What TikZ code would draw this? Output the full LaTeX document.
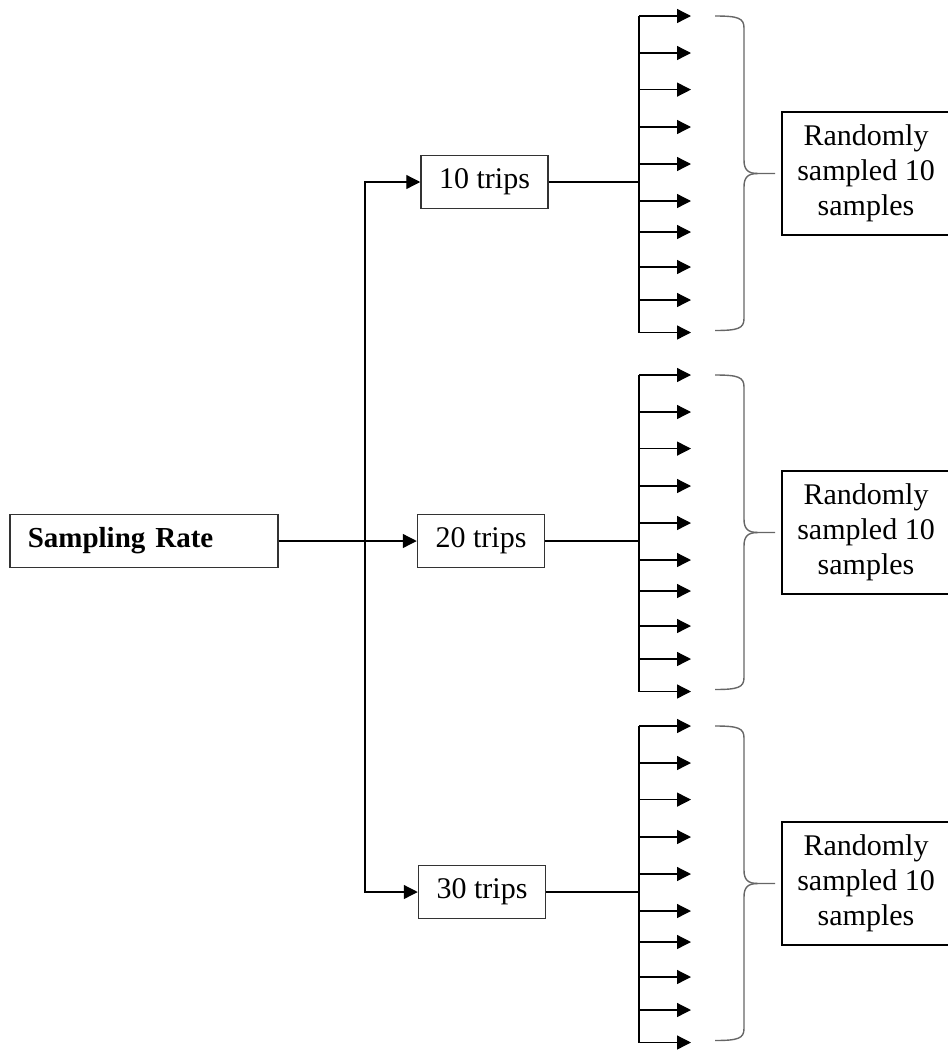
\documentclass[tikz,border=0pt]{standalone}
\usepackage{fontspec}
\setmainfont{Liberation Serif}
\usetikzlibrary{arrows.meta}
\begin{document}
\begin{tikzpicture}[x=1pt,y=-1pt,
  font=\fontsize{30}{35}\selectfont,
  line/.style={line width=1.3pt},
  arr/.style={line, -{Triangle[length=14pt,width=14pt]}},
  box/.style={draw=black!80, line width=1.5pt, inner sep=0pt, minimum height=53pt},
  tripbox/.style={box, minimum width=127pt},
  outbox/.style={draw=black, line width=2pt, minimum width=168pt, minimum height=123pt,
                 align=center, inner sep=0pt},
  bracestyle/.style={draw=black!60, line width=1.4pt}]
\useasboundingbox (0,0) rectangle (948,1050);

% source box and the three trip counts
\node[box, anchor=west, inner xsep=18pt, text width=232pt, align=left]
  (sr) at (9,541) {\fontsize{29}{35}\selectfont\bfseries Sampling Rate};
\node[tripbox] (t10) at (484.5,182) {10 trips};
\node[tripbox] (t20) at (481,541) {20 trips};
\node[tripbox] (t30) at (482,892) {30 trips};

% trunk splitting to the three boxes
\coordinate (trunk) at (365,541);
\draw[arr] (sr) -- (t20);
\draw[arr] (trunk) |- (t10);
\draw[arr] (trunk) |- (t30);

% each trip box fans out into ten samples, grouped by a brace
\foreach \g/\cy in {1/182, 2/541, 3/892} {
  \coordinate (fan\g) at (639,\cy);
  \draw[line] (t\ifcase\g\or10\or20\or30\fi) -- (fan\g);
  \coordinate (fantop\g) at (639,\cy-166);
  \coordinate (fanbot\g) at (639,\cy+150.5);
  \draw[line] (fantop\g) -- (fanbot\g);
  \foreach \k/\dy in {1/0, 2/37, 3/73.6, 4/111, 5/148, 6/185, 7/216, 8/251, 9/284, 10/316.5} {
    \coordinate (s\g-\k) at (639,\cy-166+\dy);
    \coordinate (e\g-\k) at (691,\cy-166+\dy);
    \draw[arr] (s\g-\k) -- (e\g-\k);
  }
  % brace: top end, long stroke, tip, long stroke, bottom end
  \coordinate (bt\g) at (715,\cy-166);
  \coordinate (bm\g) at (775,\cy-8.5);
  \coordinate (bb\g) at (715,\cy+148.5);
  \draw[bracestyle] (bt\g) .. controls (738,\cy-166) and (744,\cy-164) .. (744,\cy-154)
     -- (744,\cy-22) .. controls (744,\cy-12) and (748,\cy-8.5) .. (758,\cy-8.5) -- (bm\g);
  \draw[bracestyle] (bb\g) .. controls (738,\cy+148.5) and (744,\cy+146.5) .. (744,\cy+136.5)
     -- (744,\cy+5) .. controls (744,\cy-5) and (748,\cy-8.5) .. (758,\cy-8.5);
  \node[outbox] (out\g) at (866,\cy-8.5) {Randomly\\sampled 10\\samples};
}
\end{tikzpicture}
\end{document}
